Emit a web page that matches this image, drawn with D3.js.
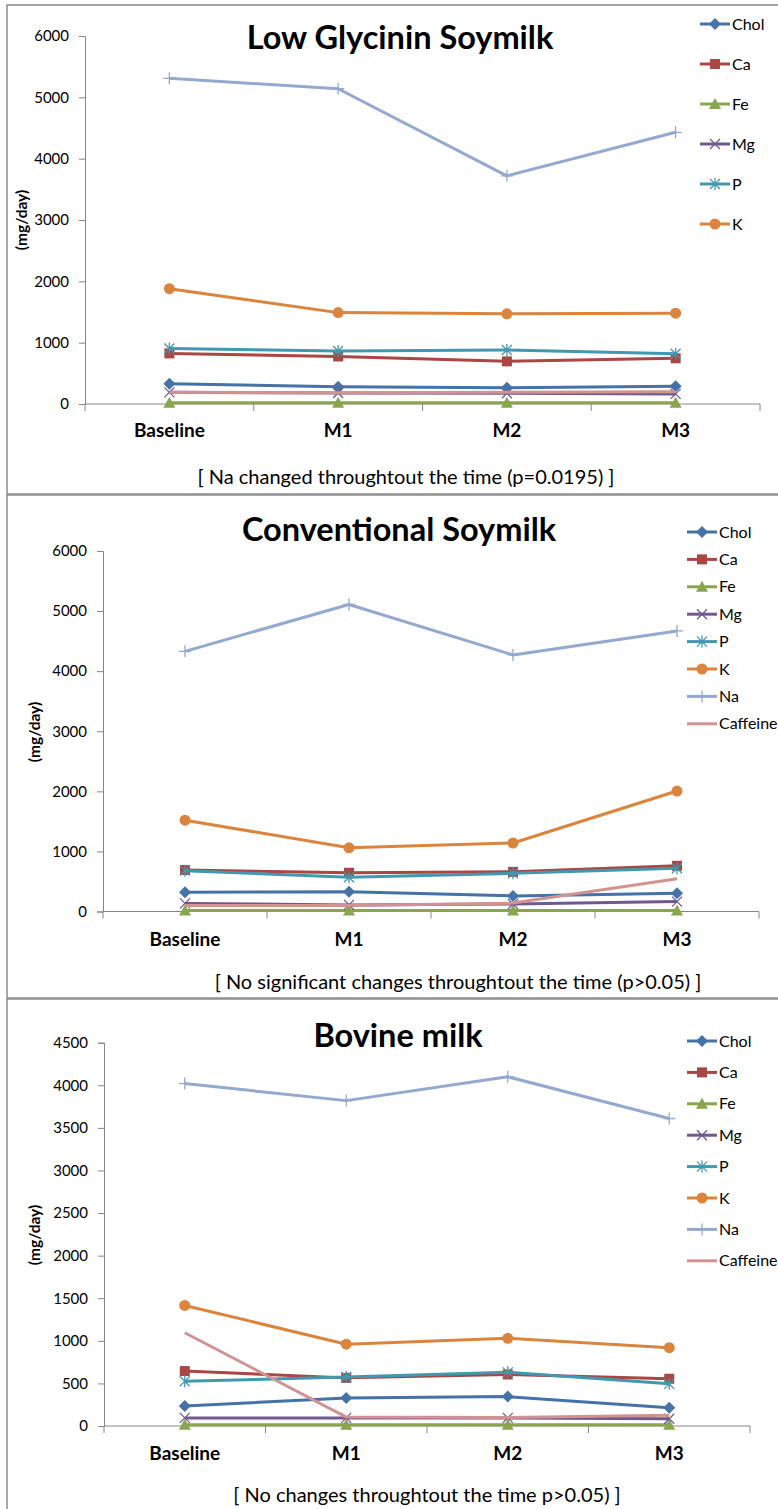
<!DOCTYPE html>
<html>
<head>
<meta charset="utf-8">
<script src="https://cdn.jsdelivr.net/npm/d3@7"></script>
<style>
  body { margin: 0; background: #fff; }
  svg { display: block; font-family: Lato, "Open Sans", sans-serif; }
</style>
</head>
<body>
<script>
// categories + series
const categories = ["Baseline", "M1", "M2", "M3"];
const seriesNames = ["Chol", "Ca", "Fe", "Mg", "P", "K", "Na", "Caffeine"];

// values in seriesNames order, mg/day
const lowGlycinin = [
  [330, 280, 265, 290],    // Chol
  [825, 775, 695, 745],    // Ca
  [20, 20, 20, 20],        // Fe
  [190, 180, 175, 165],    // Mg
  [905, 865, 880, 820],    // P
  [1880, 1490, 1470, 1480],// K
  [5310, 5140, 3720, 4430],// Na
  [190, 185, 190, 200]     // Caffeine
];
const conventional = [
  [320, 330, 260, 305],
  [690, 645, 660, 760],
  [15, 15, 15, 15],
  [135, 110, 125, 165],
  [680, 570, 635, 720],
  [1520, 1060, 1140, 2005],
  [4330, 5110, 4270, 4670],
  [100, 100, 140, 545]
];
const bovine = [
  [235, 330, 345, 215],
  [645, 565, 605, 555],
  [15, 15, 15, 15],
  [95, 95, 95, 85],
  [525, 575, 630, 495],
  [1415, 960, 1030, 920],
  [4020, 3820, 4100, 3610],
  [1095, 105, 100, 125]
];

const titles = ["Low Glycinin Soymilk", "Conventional Soymilk", "Bovine milk"];
const notes = [
  "[ Na changed throughtout the time (p=0.0195) ]",
  "[ No significant changes throughtout the time (p>0.05) ]",
  "[ No changes throughtout the time p>0.05) ]"
];
const yMaxes = [6000, 6000, 4500];
const yStepsTick = [1000, 1000, 500];
const legendCounts = [6, 8, 8];

const colors = ["#4572A7", "#AA4643", "#89A54E", "#71588F", "#4198AF", "#DB843D", "#93A9CF", "#D19392"];
const markers = ["diamond", "square", "triangle", "x", "star", "circle", "plus", "none"];

const W = 778, H = 1509;
const svg = d3.select("body").append("svg").attr("width", W).attr("height", H);

// panel frames
const frames = [[7, 5, 489], [7, 495, 503], [7, 999, 520]];
frames.forEach(f => {
  svg.append("rect").attr("x", f[0]).attr("y", f[1]).attr("width", W + 20).attr("height", f[2])
    .attr("fill", "none").attr("stroke", "#8c8c8c").attr("stroke-width", 1.5);
});

// layout for each panel (pixels)
const layouts = [
  {x0: 85, x1: 760, yBot: 404, yTop: 36, titleX: 400, titleY: 49, catY: 437, noteX: 406, noteY: 484,
   labX: 22, labY: 220, legX: 700, legY: 24, legStep: 40},
  {x0: 103, x1: 759, yBot: 911.5, yTop: 551, titleX: 399, titleY: 541, catY: 946, noteX: 458, noteY: 989,
   labX: 35, labY: 732, legX: 687, legY: 532, legStep: 27.4},
  {x0: 104, x1: 750, yBot: 1426, yTop: 1042.7, titleX: 398, titleY: 1047, catY: 1460, noteX: 427, noteY: 1502,
   labX: 35, labY: 1235, legX: 687, legY: 1041, legStep: 31.4}
];
const panelData = [lowGlycinin, conventional, bovine];

function drawMarker(g, type, cx, cy, color) {
  const s = 5;
  if (type === "diamond") {
    g.append("path").attr("d", `M${cx},${cy - s - 1}L${cx + s + 1},${cy}L${cx},${cy + s + 1}L${cx - s - 1},${cy}Z`).attr("fill", color);
  } else if (type === "square") {
    g.append("rect").attr("x", cx - s).attr("y", cy - s).attr("width", 2 * s).attr("height", 2 * s).attr("fill", color);
  } else if (type === "triangle") {
    g.append("path").attr("d", `M${cx},${cy - s - 1}L${cx + s + 1},${cy + s}L${cx - s - 1},${cy + s}Z`).attr("fill", color);
  } else if (type === "circle") {
    g.append("circle").attr("cx", cx).attr("cy", cy).attr("r", s + 0.5).attr("fill", color);
  } else if (type === "x") {
    g.append("path").attr("d", `M${cx - s},${cy - s}L${cx + s},${cy + s}M${cx - s},${cy + s}L${cx + s},${cy - s}`)
      .attr("stroke", color).attr("stroke-width", 1.3);
  } else if (type === "star") {
    g.append("path").attr("d", `M${cx - s},${cy - s}L${cx + s},${cy + s}M${cx - s},${cy + s}L${cx + s},${cy - s}M${cx},${cy - s - 1}L${cx},${cy + s + 1}`)
      .attr("stroke", color).attr("stroke-width", 1.3);
  } else if (type === "plus") {
    g.append("path").attr("d", `M${cx - s - 1},${cy}L${cx + s + 1},${cy}M${cx},${cy - s - 1}L${cx},${cy + s + 1}`)
      .attr("stroke", color).attr("stroke-width", 1.3);
  }
}

layouts.forEach((L, p) => {
  const g = svg.append("g");
  const x = d3.scaleBand().domain(categories).range([L.x0, L.x1]);
  const y = d3.scaleLinear().domain([0, yMaxes[p]]).range([L.yBot, L.yTop]);

  // y axis
  const yAxis = d3.axisLeft(y).tickValues(d3.range(0, yMaxes[p] + 1, yStepsTick[p]))
    .tickSize(6).tickPadding(10).tickFormat(d3.format("d"));
  const ya = g.append("g").attr("transform", `translate(${L.x0},0)`).call(yAxis);
  ya.select(".domain").attr("stroke", "#868686");
  ya.selectAll(".tick line").attr("stroke", "#868686");
  ya.selectAll(".tick text").attr("font-size", 15).attr("fill", "#000").attr("font-family", "Lato");

  // x axis line + boundary ticks
  g.append("line").attr("x1", L.x0).attr("x2", L.x1).attr("y1", L.yBot).attr("y2", L.yBot)
    .attr("stroke", "#868686");
  g.selectAll(".xt").data(d3.range(categories.length + 1)).join("line")
    .attr("x1", i => L.x0 + i * x.step()).attr("x2", i => L.x0 + i * x.step())
    .attr("y1", L.yBot).attr("y2", L.yBot + 7).attr("stroke", "#868686");
  g.selectAll(".cat").data(categories).join("text")
    .attr("x", d => x(d) + x.bandwidth() / 2).attr("y", L.catY)
    .attr("text-anchor", "middle").attr("font-weight", "bold").attr("font-size", 19).text(d => d);

  // lines
  const line = d3.line().x((d, i) => x(categories[i]) + x.bandwidth() / 2).y(d => y(d));
  panelData[p].forEach((vals, si) => {
    g.append("path").datum(vals).attr("d", line).attr("fill", "none")
      .attr("stroke", colors[si]).attr("stroke-width", 3).attr("stroke-linejoin", "round");
    vals.forEach((v, i) => drawMarker(g, markers[si], x(categories[i]) + x.bandwidth() / 2, y(v), colors[si]));
  });

  // title, note, y label
  g.append("text").attr("x", L.titleX).attr("y", L.titleY).attr("text-anchor", "middle")
    .attr("font-weight", "bold").attr("font-size", 32.5).text(titles[p]);
  g.append("text").attr("x", L.noteX).attr("y", L.noteY).attr("text-anchor", "middle")
    .attr("font-size", 20).text(notes[p]);
  g.append("text").attr("transform", `translate(${L.labX},${L.labY}) rotate(-90)`)
    .attr("text-anchor", "middle").attr("dy", "0.35em")
    .attr("font-weight", "bold").attr("font-size", 15.5).text("(mg/day)");

  // legend
  for (let k = 0; k < legendCounts[p]; k++) {
    const ly = L.legY + k * L.legStep;
    g.append("line").attr("x1", L.legX).attr("x2", L.legX + 30).attr("y1", ly).attr("y2", ly)
      .attr("stroke", colors[k]).attr("stroke-width", 3);
    drawMarker(g, markers[k], L.legX + 15, ly, colors[k]);
    g.append("text").attr("x", L.legX + 32).attr("y", ly).attr("dy", "0.35em")
      .attr("font-size", 16).text(seriesNames[k]);
  }
});
</script>
</body>
</html>
